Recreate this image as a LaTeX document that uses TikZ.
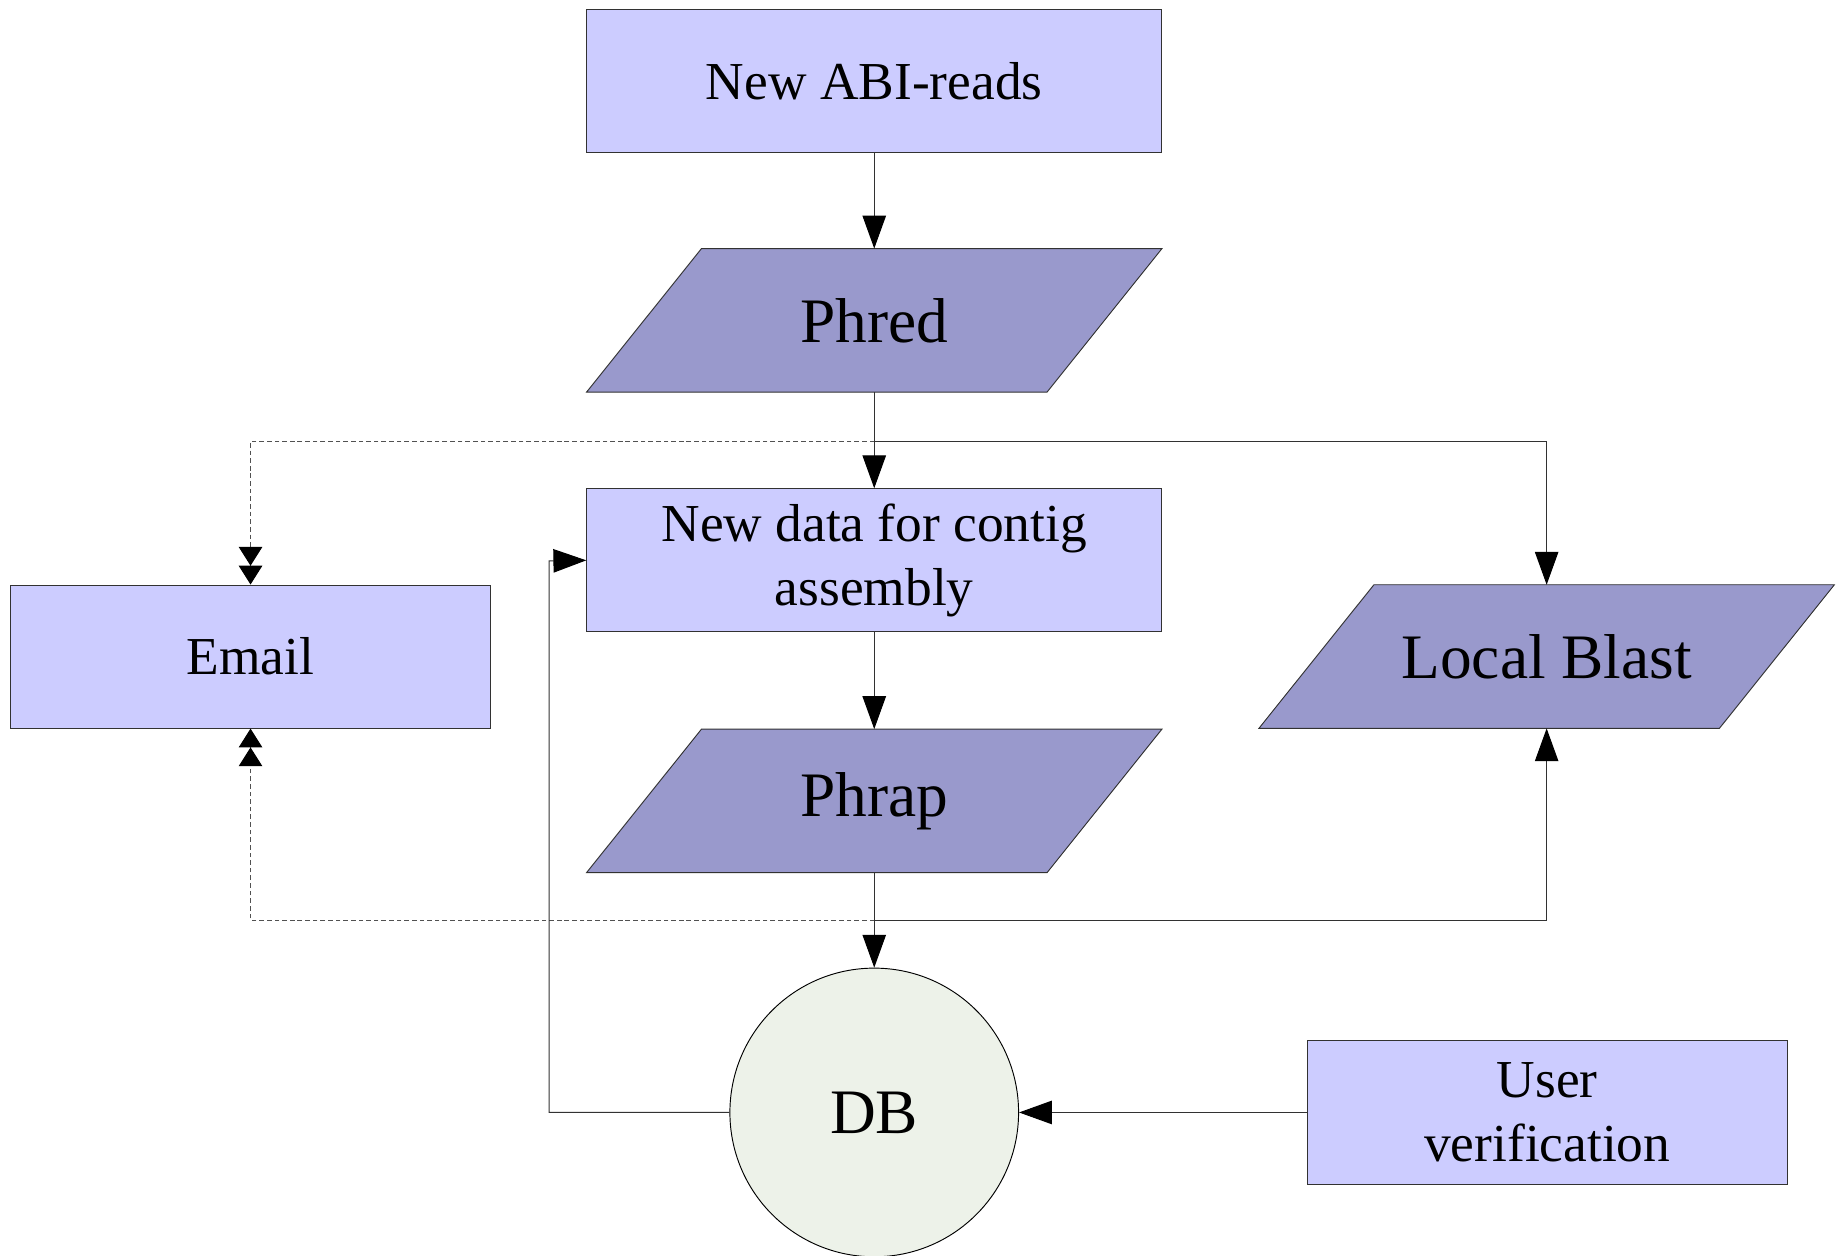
\documentclass[tikz,border=0pt]{standalone}
\usepackage{fontspec}
\setmainfont{Liberation Serif}
\usetikzlibrary{arrows.meta,calc,backgrounds}
\definecolor{boxblue}{RGB}{204,204,255}
\definecolor{parablue}{RGB}{153,153,204}
\definecolor{dbgreen}{RGB}{237,242,233}
\definecolor{linegray}{RGB}{50,50,50}
\newcommand\fsmall{\fontsize{45.5pt}{55pt}\selectfont}
\newcommand\fbig{\fontsize{54pt}{64pt}\selectfont}
\begin{document}
\begin{tikzpicture}[x=1pt,y=-1pt,
  lightbox/.style={draw=linegray, fill=boxblue, line width=0.8pt, minimum width=490pt, minimum height=122pt, inner sep=0pt, align=center, font=\fsmall},
  sidebox/.style={lightbox, minimum width=409pt},
  paranode/.style={minimum width=490pt, minimum height=122pt, inner sep=0pt, align=center, font=\fbig},
  parashape/.style={draw=linegray, fill=parablue, line width=0.8pt},
  dbnode/.style={circle, draw=black, fill=dbgreen, line width=0.8pt, minimum size=246pt, inner sep=0pt, font=\fbig},
  conn/.style={draw=linegray, line width=0.85pt, -{Triangle[length=28pt,width=20pt,color=black]}},
  dconn/.style={draw=linegray!85, line width=0.85pt, dash pattern=on 4pt off 2.5pt, -{Triangle[length=16pt,width=20pt,color=black]Triangle[length=16pt,width=20pt,color=black]}}
]
\useasboundingbox (0,0) rectangle (1568,1070);

% nodes
\node[lightbox] (abi) at (745,69) {New ABI-reads};
\node[paranode] (phred) at (745,273) {Phred};
\node[lightbox] (newdata) at (745,477.5) {New data for contig\\assembly};
\node[paranode] (phrap) at (745,682.5) {Phrap};
\node[sidebox] (email) at (213.5,559.5) {Email};
\node[paranode] (blast) at (1318,559.5) {Local Blast};
\node[dbnode] (db) at (745,948) {DB};
\node[sidebox] (user) at (1318.5,948) {User\\verification};

% parallelogram outlines
\begin{scope}[on background layer]
  \foreach \p in {phred,phrap,blast}{
    \path[parashape] ($(\p.north west)+(98,0)$) -- (\p.north east) -- ($(\p.south east)+(-98,0)$) -- (\p.south west) -- cycle;
  }
\end{scope}

% junction coordinates
\coordinate (j1) at (745,376);
\coordinate (j2) at (745,784);
\coordinate (loop) at (468,478);

% connectors
\draw[conn] (abi.south) -- (phred.north);
\draw[conn] (phred.south) -- (newdata.north);
\draw[conn] (j1) -| (blast.north);
\draw[dconn] (j1) -| (email.north);
\draw[conn] (newdata.south) -- (phrap.north);
\draw[conn] (phrap.south) -- (db.north);
\draw[conn] (j2) -| (blast.south);
\draw[dconn] (j2) -| (email.south);
\draw[conn] (db.west) -| (loop) -- (newdata.west);
\draw[conn] (user.west) -- (db.east);
\end{tikzpicture}
\end{document}
